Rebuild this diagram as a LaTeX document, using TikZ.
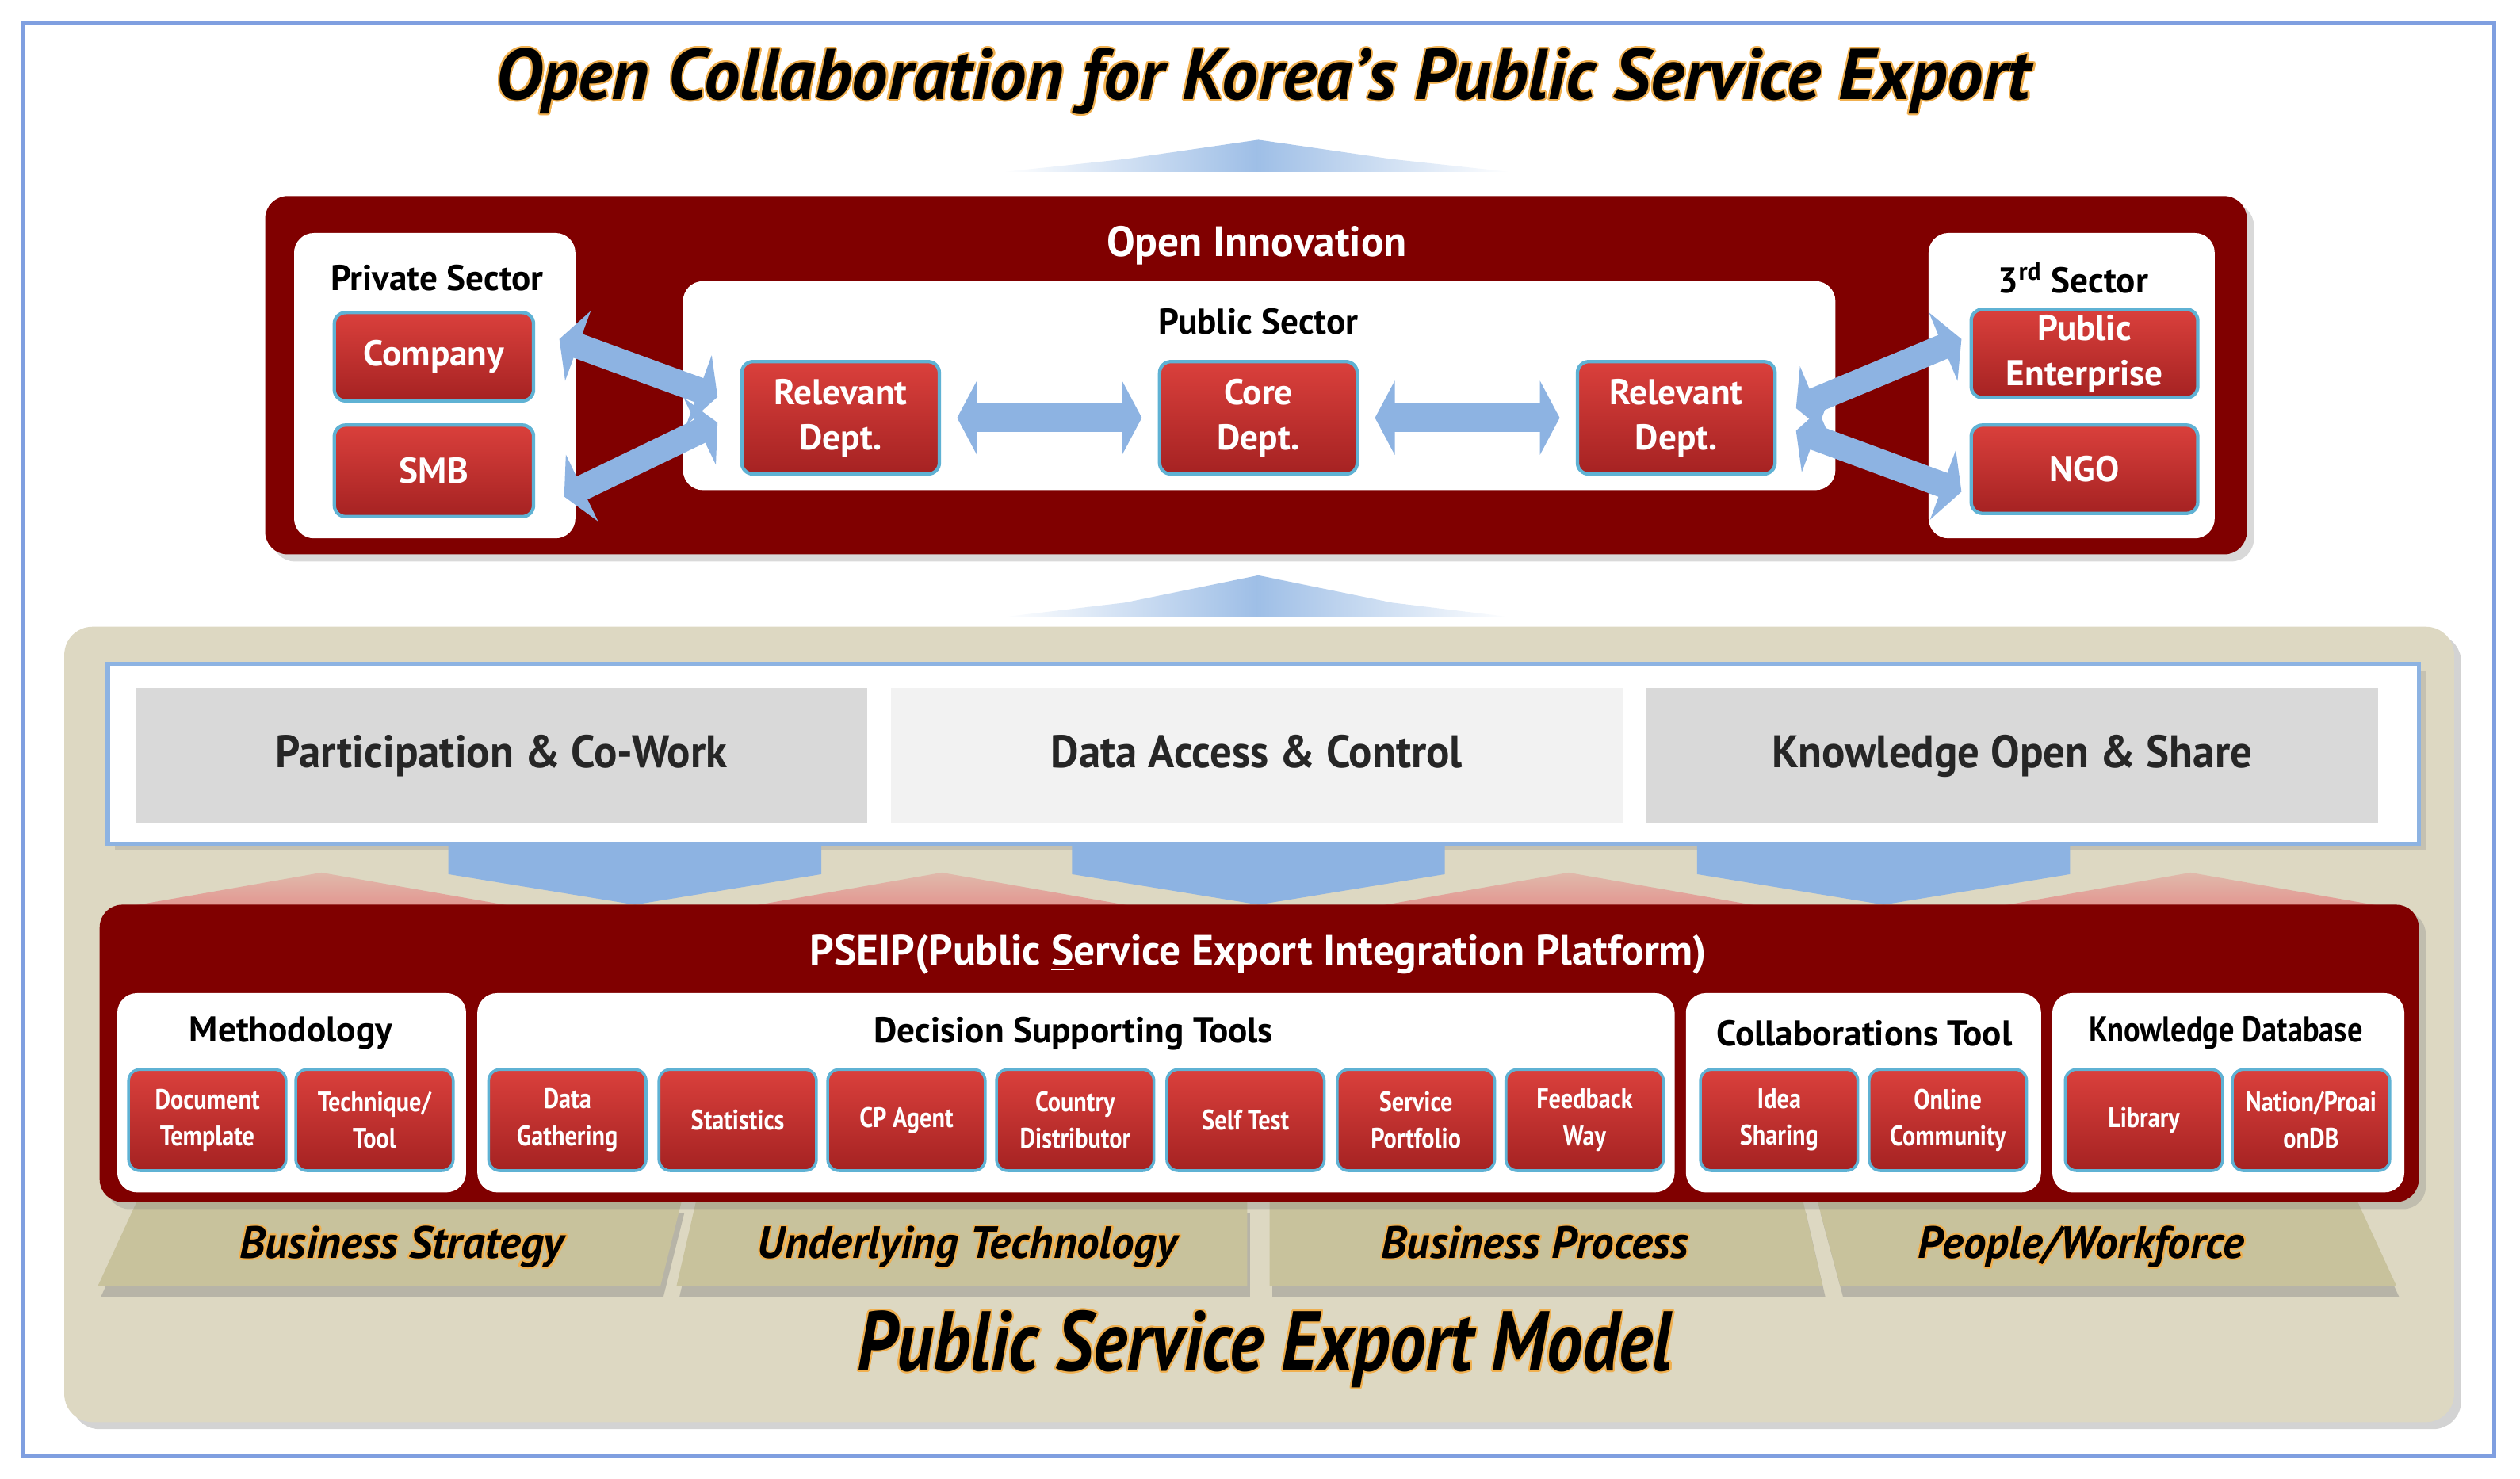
\documentclass[tikz,border=0pt]{standalone}
\usepackage{fontspec}
\setmainfont{PT Sans}
\newfontfamily\media[FakeStretch=0.95]{PT Sans}
\newfontfamily\estrecha[FakeStretch=0.85]{PT Sans}
\usepackage[copies]{contour}
\contourlength{0.6pt}
\usetikzlibrary{arrows.meta,shadows}

\definecolor{marco}{HTML}{7F9FE0}
\definecolor{granate}{HTML}{800000}
\definecolor{botonA}{HTML}{DA403C}
\definecolor{botonB}{HTML}{A52222}
\definecolor{bordeBoton}{HTML}{5FB2D4}
\definecolor{azulFlecha}{HTML}{8DB3E2}
\definecolor{beigeFondo}{HTML}{DDD8C2}
\definecolor{beigeOsc}{HTML}{C8C29C}
\definecolor{grisCaja}{HTML}{D9D9D9}
\definecolor{grisClaro}{HTML}{F2F2F2}
\definecolor{rosa}{HTML}{E3948F}
\definecolor{brillo}{HTML}{F0B050}

\newcommand{\brillante}[1]{\contour{brillo}{#1}}

\begin{document}
\begin{tikzpicture}[x=0.02cm, y=-0.02cm,
	panel/.style={fill=white, rounded corners=7pt},
	boton/.style={rounded corners=4pt, top color=botonA, bottom color=botonB, draw=bordeBoton, line width=1.2pt,
		text=white, align=center, inner sep=1pt, font=\fontsize{12.7}{16}\selectfont\bfseries},
	botonchico/.style={boton, line width=1pt, minimum width=1.96cm, minimum height=1.26cm,
		font=\estrecha\fontsize{10}{13}\selectfont\bfseries},
	titulo/.style={text=black, font=\fontsize{12.7}{14}\selectfont\bfseries},
	flecha/.style={draw=azulFlecha, line width=10pt, {Triangle[width=26pt,length=7pt]}-{Triangle[width=26pt,length=7pt]}},
	gris/.style={fill=grisCaja, minimum width=9.1cm, minimum height=1.68cm, text=black!85,
		text height=12pt, text depth=3pt, font=\media\fontsize{16.2}{18}\selectfont\bfseries},
	base/.style={fill=beigeOsc, drop shadow={opacity=0.4, shadow xshift=1pt, shadow yshift=-4pt}},
	etiqueta/.style={text height=12pt, text depth=4pt, font=\fontsize{16}{18}\selectfont\bfseries\itshape}
]
	\useasboundingbox (0,0) rectangle (1568,920);

	% Dibujar el marco y el titulo
	\draw[marco, line width=1.5pt] (14,14) rectangle (1552,906);
	\node[font=\fontsize{25.5}{28}\selectfont\bfseries\itshape] (titulo) at (786,51)
		{\brillante{Open Collaboration for Korea’s Public Service Export}};
	\shade[left color=white, right color=white, middle color=azulFlecha!85]
		(624,107) -- (700,99) -- (783,87) -- (866,99) -- (940,107) -- cycle;

	% Dibujar Open Innovation
	\fill[granate, rounded corners=8pt, drop shadow={opacity=0.3}] (165,122) rectangle (1398,345);
	\node[text=white, font=\fontsize{15}{16}\selectfont\bfseries] (innovacion) at (782,153) {Open Innovation};

	\fill[panel] (183,145) rectangle (358,335);
	\node[titulo] (privado) at (272,173) {Private Sector};
	\node[boton, minimum width=2.48cm, minimum height=1.1cm] (company) at (270,222) {Company};
	\node[boton, minimum width=2.48cm, minimum height=1.14cm] (smb) at (270,293) {SMB};

	\fill[panel] (425,175) rectangle (1142,305);
	\node[titulo] (publico) at (783,200) {Public Sector};
	\node[boton, minimum width=2.46cm, minimum height=1.4cm] (relizq) at (523,260) {Relevant\\Dept.};
	\node[boton, minimum width=2.46cm, minimum height=1.4cm] (core) at (783,260) {Core\\Dept.};
	\node[boton, minimum width=2.46cm, minimum height=1.4cm] (relder) at (1043,260) {Relevant\\Dept.};

	\fill[panel] (1200,145) rectangle (1378,335);
	\node[titulo] (tercero) at (1290,173) {3\textsuperscript{rd} Sector};
	\node[boton, minimum width=2.82cm, minimum height=1.1cm] (empresa) at (1297,220) {Public\\Enterprise};
	\node[boton, minimum width=2.82cm, minimum height=1.1cm] (ngo) at (1297,292) {NGO};

	% Dibujar las flechas
	\draw[flecha] ([shift={(10,0)}]relizq.east) -- ([shift={(-10,0)}]core.west);
	\draw[flecha] ([shift={(10,0)}]core.east) -- ([shift={(-10,0)}]relder.west);
	\draw[flecha, line width=9pt] ([shift={(15,-11)}]company.east) -- ([shift={(-14,-13)}]relizq.west);
	\draw[flecha, line width=9pt] ([shift={(18,16)}]smb.east) -- ([shift={(-14,3)}]relizq.west);
	\draw[flecha, line width=9pt] ([shift={(12,-6)}]relder.east) -- ([shift={(-5,-9)}]empresa.west);
	\draw[flecha, line width=9pt] ([shift={(12,8)}]relder.east) -- ([shift={(-5,14)}]ngo.west);

	\shade[left color=white, right color=white, middle color=azulFlecha!85]
		(624,384) -- (700,375) -- (783,358) -- (866,375) -- (940,384) -- cycle;

	% Dibujar el modelo
	\fill[beigeFondo, rounded corners=10pt, drop shadow={opacity=0.35}] (40,390) rectangle (1527,885);
	\draw[fill=white, draw=azulFlecha, line width=1.5pt, drop shadow={opacity=0.25}] (67,413) rectangle (1505,525);
	\node[gris] (participa) at (312,470) {Participation \& Co-Work};
	\node[gris, fill=grisClaro] (acceso) at (782,470) {Data Access \& Control};
	\node[gris] (comparte) at (1252,470) {Knowledge Open \& Share};

	\foreach \p in {200,586,976,1363}
		\shade[top color=rosa!45!beigeFondo, bottom color=rosa] (\p-125,565) -- (\p,543) -- (\p+125,565) -- cycle;
	\foreach \c in {395,783,1172}
		\fill[azulFlecha] (\c-116,525) -- (\c+116,525) -- (\c+116,544) -- (\c,563) -- (\c-116,544) -- cycle;

	\foreach \a/\b/\c/\d/\cx/\texto in {85/424/61/411/250/Business Strategy, 433/776/421/776/602/Underlying Technology,
			790/1122/790/1134/955/Business Process, 1131/1467/1145/1491/1295/{People/Workforce}}{
		\fill[base] (\a,748) -- (\b,748) -- (\d,800) -- (\c,800) -- cycle;
		\node[etiqueta] (base\cx) at (\cx,776) {\brillante{\texto}};
	}

	% Dibujar PSEIP
	\fill[granate, rounded corners=8pt, drop shadow={opacity=0.3}] (62,563) rectangle (1505,748);
	\node[text=white, font=\fontsize{15}{16}\selectfont\bfseries] (pseip) at (783,594)
		{PSEIP(\underline{P}ublic \underline{S}ervice \underline{E}xport \underline{I}ntegration \underline{P}latform)};

	\fill[panel] (73,618) rectangle (290,742);
	\fill[panel] (297,618) rectangle (1042,742);
	\fill[panel] (1049,618) rectangle (1270,742);
	\fill[panel] (1277,618) rectangle (1496,742);
	\node[titulo] (metodo) at (181,643) {Methodology};
	\node[titulo] (decision) at (668,643) {Decision Supporting Tools};
	\node[titulo] (colabora) at (1160,643) {Collaborations Tool};
	\node[titulo, font=\estrecha\fontsize{12.7}{14}\selectfont\bfseries] (saber) at (1385,643) {Knowledge Database};

	\foreach \x/\nombre/\texto in {129/documento/{Document\\Template}, 233/tecnica/{Technique/\\Tool},
			353/recogida/{Data\\Gathering}, 459/estadistica/Statistics, 564/agente/CP Agent,
			669/distribuidor/{Country\\Distributor}, 775/autotest/Self Test, 881/portafolio/{Service\\Portfolio},
			986/retro/{Feedback\\Way}, 1107/ideas/{Idea\\Sharing}, 1212/comunidad/{Online\\Community},
			1334/biblioteca/Library, 1438/nacion/{Nation/Proai\\onDB}}
		\node[botonchico] (\nombre) at (\x,697) {\texto};

	\node[font=\estrecha\fontsize{30}{34}\selectfont\bfseries\itshape] (modelo) at (787,840)
		{\brillante{Public Service Export Model}};
\end{tikzpicture}
\end{document}
